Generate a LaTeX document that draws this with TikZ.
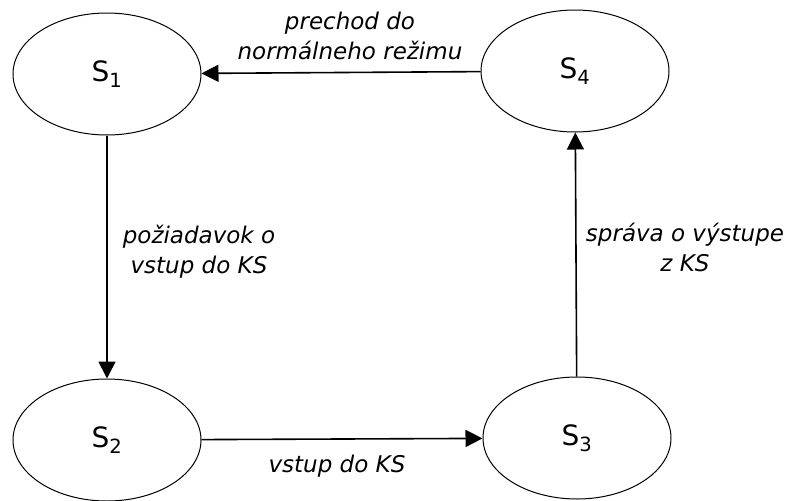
\documentclass[tikz,border=0pt]{standalone}
\usepackage{fontspec}
\setmainfont{DejaVu Sans}
\usetikzlibrary{shapes.geometric,arrows.meta}

\begin{document}
\begin{tikzpicture}[x=1pt,y=-1pt,
	state/.style ={ellipse, draw=black, line width=1pt, inner sep=0pt, minimum width=188pt, minimum height=122pt, font=\fontsize{28}{32}\selectfont},
	lbl/.style ={align=center, font=\fontsize{23}{30}\selectfont\itshape},
	arr/.style ={line width=1.6pt, -{Triangle[length=17pt,width=17pt]}}]
		\useasboundingbox (0,0) rectangle (788,501);
		\node[state] (n1) at (107,74) {S\textsubscript{1}};
		\node[state] (n2) at (107,440) {S\textsubscript{2}};
		\node[state] (n3) at (577,438) {S\textsubscript{3}};
		\node[state] (n4) at (575,71) {S\textsubscript{4}};
		\node[lbl] (l1) at (350,36) {prechod do\\normálneho režimu};
		\node[lbl] (l2) at (199,252) {požiadavok o\\vstup do KS};
		\node[lbl] (l3) at (685,247) {správa o výstupe\\z KS};
		\node[lbl] (l4) at (337,466) {vstup do KS};
		\draw[arr] (n1) -- (n2);
		\draw[arr] (n2) -- (n3);
		\draw[arr] (n3) -- (n4);
		\draw[arr] (n4) -- (n1);
	\end{tikzpicture}
\end{document}
